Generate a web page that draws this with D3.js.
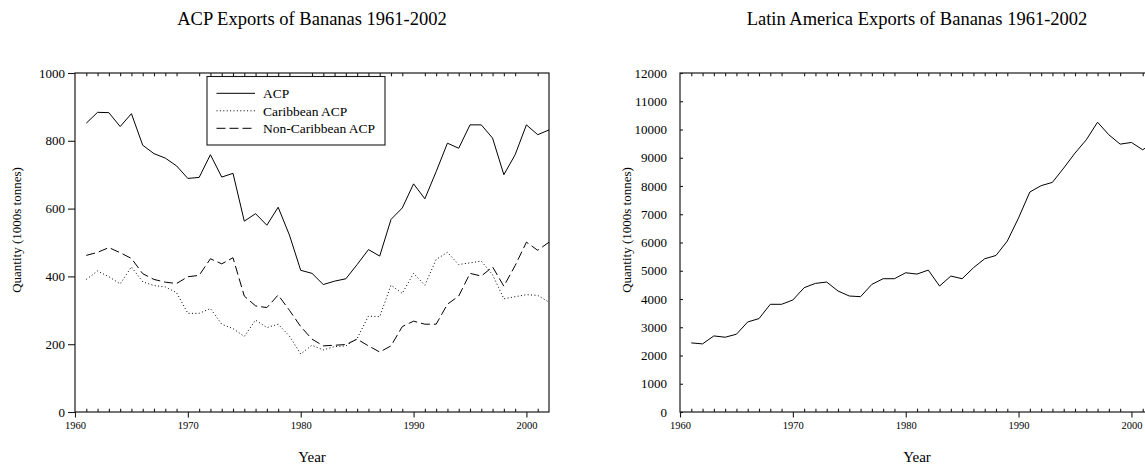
<!DOCTYPE html>
<html>
<head>
<meta charset="utf-8">
<script src="https://cdn.jsdelivr.net/npm/d3@7"></script>
<style>
  html, body { margin: 0; padding: 0; background: #fff; overflow: hidden; }
  svg { display: block; }
  text { font-family: "Liberation Serif", "Times New Roman", Times, serif; fill: #000; }
</style>
</head>
<body>
<svg id="fig" width="1145" height="466"></svg>
<script>
// Years covered by both panels
const years = [1961, 1962, 1963, 1964, 1965, 1966, 1967, 1968, 1969, 1970,
               1971, 1972, 1973, 1974, 1975, 1976, 1977, 1978, 1979, 1980,
               1981, 1982, 1983, 1984, 1985, 1986, 1987, 1988, 1989, 1990,
               1991, 1992, 1993, 1994, 1995, 1996, 1997, 1998, 1999, 2000,
               2001, 2002];

// ACP exports (1000s tonnes)
const acp = [852, 884, 883, 842, 880, 787, 762, 749, 726, 689,
             692, 759, 693, 704, 563, 585, 551, 604, 522, 418,
             409, 376, 386, 393, 435, 479, 460, 568, 602, 673,
             629, 709, 793, 778, 847, 847, 808, 700, 759, 847,
             818, 832];
const caribbeanAcp = [391, 416, 399, 378, 428, 384, 373, 369, 352, 291,
                      291, 305, 259, 246, 223, 271, 249, 259, 224, 171,
                      197, 183, 193, 195, 217, 283, 281, 374, 350, 409,
                      374, 450, 471, 435, 440, 445, 405, 334, 340, 346,
                      344, 324];
const nonCaribbeanAcp = [462, 471, 485, 470, 453, 408, 391, 383, 379, 399,
                         403, 452, 437, 455, 342, 313, 308, 345, 300, 252,
                         215, 195, 197, 199, 215, 195, 177, 195, 252, 268,
                         259, 259, 318, 342, 409, 401, 428, 371, 432, 501,
                         477, 501];

// Latin America exports (1000s tonnes)
const latinAmerica = [2446, 2411, 2693, 2647, 2753, 3188, 3306, 3812, 3812, 3965,
                      4400, 4553, 4600, 4283, 4106, 4082, 4518, 4718, 4718, 4929,
                      4882, 5023, 4459, 4812, 4718, 5106, 5424, 5541, 6050, 6871,
                      7788, 8012, 8129, 8635, 9165, 9635, 10259, 9812, 9482, 9541,
                      9282, 9550];

// Axis tick labels
const majorYears = [1960, 1970, 1980, 1990, 2000];
const minorYears = [1961, 1962, 1963, 1964, 1965, 1966, 1967, 1968, 1969,
                    1971, 1972, 1973, 1974, 1975, 1976, 1977, 1978, 1979,
                    1981, 1982, 1983, 1984, 1985, 1986, 1987, 1988, 1989,
                    1991, 1992, 1993, 1994, 1995, 1996, 1997, 1998, 1999,
                    2001];
const acpTicks = [0, 200, 400, 600, 800, 1000];
const latinTicks = [0, 1000, 2000, 3000, 4000, 5000, 6000, 7000, 8000, 9000, 10000, 11000, 12000];

const acpSeries = [
  { name: "ACP", values: acp, dash: null },
  { name: "Caribbean ACP", values: caribbeanAcp, dash: "1,2.4" },
  { name: "Non-Caribbean ACP", values: nonCaribbeanAcp, dash: "9,4" }
];

const svg = d3.select("#fig");
const plotTop = 73, plotBottom = 412;

function panel(opts) {
  const g = svg.append("g");
  const x = d3.scaleLinear().domain([1960, 2002]).range([opts.left, opts.right]);
  const y = d3.scaleLinear().domain(opts.yDomain).range([plotBottom, plotTop]);

  // frame
  g.append("rect")
    .attr("x", opts.left).attr("y", plotTop)
    .attr("width", opts.right - opts.left).attr("height", plotBottom - plotTop)
    .attr("fill", "none").attr("stroke", "#1a1a1a").attr("stroke-width", 1.2);

  // bottom axis: labelled decades outward, yearly minor ticks inward
  const bMajor = g.append("g").attr("transform", `translate(0,${plotBottom})`)
    .call(d3.axisBottom(x).tickValues(majorYears).tickSize(5.5).tickPadding(4)
      .tickFormat(d3.format("d")));
  bMajor.selectAll("text").attr("font-size", 10.5);
  g.append("g").attr("transform", `translate(0,${plotBottom})`)
    .call(d3.axisBottom(x).tickValues(minorYears).tickSize(-3.3).tickFormat(""));
  g.append("g").attr("transform", `translate(0,${plotTop})`)
    .call(d3.axisTop(x).tickValues(minorYears).tickSize(-3.3).tickFormat(""));

  // left axis
  const yAxis = g.append("g").attr("transform", `translate(${opts.left},0)`)
    .call(d3.axisLeft(y).tickValues(opts.yTicks).tickSize(opts.yTickSize)
      .tickPadding(opts.yPad).tickFormat(d3.format("d")));
  yAxis.selectAll("text").attr("font-size", 13);

  g.selectAll(".domain").remove();
  g.selectAll(".tick line").attr("stroke", "#1a1a1a").attr("stroke-width", 1.1);
  g.selectAll(".tick text").attr("font-family", null);

  // titles
  g.append("text").attr("x", (opts.left + opts.right) / 2).attr("y", 25)
    .attr("text-anchor", "middle").attr("font-size", 18.5).text(opts.title);
  g.append("text").attr("x", (opts.left + opts.right) / 2).attr("y", 462)
    .attr("text-anchor", "middle").attr("font-size", 15).text("Year");
  g.append("text")
    .attr("transform", `translate(${opts.left - opts.labelOffset},230) rotate(-90)`)
    .attr("text-anchor", "middle").attr("font-size", 13)
    .text("Quantity (1000s tonnes)");

  const line = d3.line().x((d, i) => x(years[i])).y(d => y(d));
  opts.series.forEach(s => {
    g.append("path").datum(s.values)
      .attr("d", line)
      .attr("fill", "none").attr("stroke", "#000").attr("stroke-width", 1)
      .attr("stroke-dasharray", s.dash);
  });
  return { g, x, y };
}

const acpPanel = panel({
  left: 75, right: 549, yDomain: [0, 1000], yTicks: acpTicks,
  yTickSize: 7, yPad: 3, labelOffset: 54,
  title: "ACP Exports of Bananas 1961-2002",
  series: acpSeries
});

panel({
  left: 680, right: 1154, yDomain: [0, 12000], yTicks: latinTicks,
  yTickSize: -3, yPad: 13, labelOffset: 49,
  title: "Latin America Exports of Bananas 1961-2002",
  series: [{ name: "Latin America", values: latinAmerica, dash: null }]
});

// legend for the ACP panel
const lg = acpPanel.g.append("g");
lg.append("rect").attr("x", 207).attr("y", 76.5).attr("width", 178).attr("height", 68.5)
  .attr("fill", "#fff").attr("stroke", "#1a1a1a").attr("stroke-width", 1.1);
acpSeries.forEach((s, i) => {
  const cy = 93.3 + i * 17.5;
  lg.append("line").attr("x1", 216.5).attr("x2", 255).attr("y1", cy).attr("y2", cy)
    .attr("stroke", "#000").attr("stroke-width", 1).attr("stroke-dasharray", s.dash);
  lg.append("text").attr("x", 263).attr("y", cy).attr("dy", "0.35em")
    .attr("font-size", 13.5).text(s.name);
});
</script>
</body>
</html>
